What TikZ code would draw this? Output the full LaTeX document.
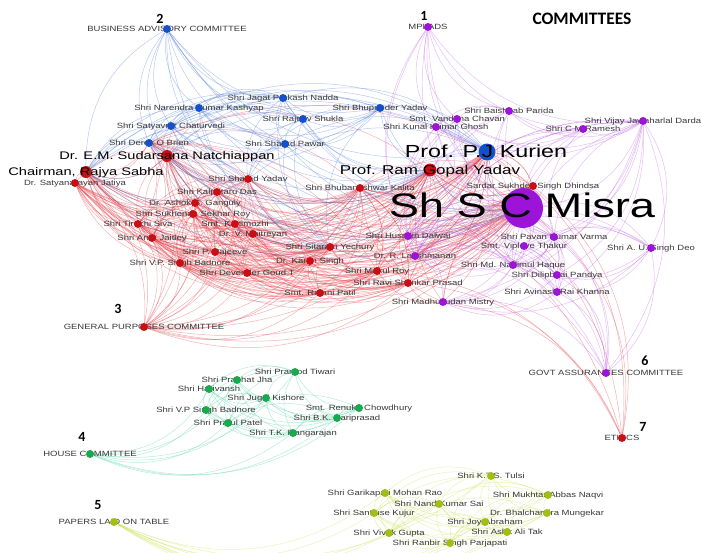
\documentclass[tikz,border=0pt]{standalone}
\usepackage{fontspec}
\setmainfont{Liberation Sans}[FakeStretch=1.25]
\newfontfamily\namefont{Liberation Sans}[FakeStretch=1.33]
\newfontfamily\headfont{Carlito}
\usetikzlibrary{backgrounds}
\definecolor{rnode}{RGB}{200,16,20}
\definecolor{bnode}{RGB}{20,80,200}
\definecolor{pnode}{RGB}{155,20,215}
\definecolor{gnode}{RGB}{25,170,80}
\definecolor{ynode}{RGB}{160,190,20}
\definecolor{rline}{RGB}{228,50,60}
\definecolor{bline}{RGB}{70,115,215}
\definecolor{pline}{RGB}{185,85,225}
\definecolor{gline}{RGB}{60,205,150}
\definecolor{yline}{RGB}{195,222,70}
\definecolor{lgray}{RGB}{55,55,55}
\pgfdeclarelayer{edges}
\pgfdeclarelayer{labels}
\pgfdeclarelayer{front}
\pgfsetlayers{edges,labels,main,front}
\tikzset{
	every node/.style = { inner sep=0pt },
	dot/.style  = { circle, minimum size=8pt },
	rm/.style   = { dot, fill=rnode },
	bm/.style   = { dot, fill=bnode },
	pm/.style   = { dot, fill=pnode },
	gm/.style   = { dot, fill=gnode },
	ym/.style   = { dot, fill=ynode },
	lbl/.style  = { font=\fontsize{7.6}{8}\selectfont, text=lgray, text height=5.4pt, text depth=0pt },
	big/.style  = { font=\namefont\fontsize{#1}{#1}\selectfont, text=black, text height=0.72*#1pt, text depth=0pt },
	num/.style  = { font=\headfont\bfseries\fontsize{14}{14}\selectfont },
	edge/.style = { line width=.5pt, opacity=.38, bend right=30 },
	re/.style   = { edge, draw=rline },
	be/.style   = { edge, draw=bline },
	pe/.style   = { edge, draw=pline },
	ge/.style   = { edge, draw=gline },
	ye/.style   = { edge, draw=yline },
}
% a member: style, name, position, text
\newcommand{\member}[4]{\node[#1] (#2) at (#3) {};
	\begin{pgfonlayer}{labels}\node[lbl] at (#2) {#4};\end{pgfonlayer}}
% committee to its members
\newcommand{\seats}[3]{\foreach \who in #3 {\draw[#1] (#2) to (\who);}}
% members of one committee with each other
\newcommand{\clique}[2]{\foreach \a [count=\i] in #2 {
	\foreach \b [count=\j] in #2 {\ifnum\j>\i \draw[#1] (\a) to (\b);\fi}}}

\begin{document}
\begin{tikzpicture}[x=1pt,y=-1pt]
\useasboundingbox (0,0) rectangle (702,552);

% committees
\member{pm}{mplads}{428,27}{MPLADS}
\member{bm}{bac}{167,29}{BUSINESS ADVISORY COMMITTEE}
\member{rm}{gpc}{144,327}{GENERAL PURPOSES COMMITTEE}
\member{gm}{house}{90,454}{HOUSE COMMITTEE}
\member{ym}{plot}{114,522}{PAPERS LAID ON TABLE}
\member{pm}{gac}{606,373}{GOVT ASSURANCES COMMITTEE}
\member{rm}{ethics}{622,438}{ETHICS}
\node (n1) [num] at (424,16) {1};
\node (n2) [num] at (160,19) {2};
\node (n3) [num] at (118,309) {3};
\node (n4) [num] at (82,437) {4};
\node (n5) [num] at (98,505) {5};
\node (n6) [num] at (645,361) {6};
\node (n7) [num] at (643,427) {7};
\node (title) [font=\headfont\bfseries\fontsize{17.5}{17.5}\selectfont] at (582,19) {COMMITTEES};

% red
\node (chair) [rm,minimum size=12pt] at (86,172) {};
\node (natch) [rm,minimum size=12pt] at (167,156) {};
\node (rgyadav) [rm,minimum size=13pt] at (430,170) {};
\member{rm}{jatiya}{75,183}{Dr. Satyanarayan Jatiya}
\member{rm}{syadav}{248,179}{Shri Sharad Yadav}
\member{rm}{kdas}{217,192}{Shri Kalpataru Das}
\member{rm}{ganguly}{195,203}{Dr. Ashok S. Ganguly}
\member{rm}{sroy}{193,214}{Shri Sukhendu Sekhar Roy}
\member{rm}{siva}{138,224}{Shri Tiruchi Siva}
\member{rm}{kani}{235,224}{Smt. Kanimozhi}
\member{rm}{jaitley}{152,238}{Shri Arun Jaitley}
\member{rm}{maitreyan}{253,234}{Dr. V. Maitreyan}
\member{rm}{rajeeve}{215,252}{Shri P. Rajeeve}
\member{rm}{badnore}{180,263}{Shri V.P. Singh Badnore}
\member{rm}{goud}{247,273}{Shri Devender Goud T}
\member{rm}{karan}{310,261}{Dr. Karan Singh}
\member{rm}{yechury}{330,247}{Shri Sitaram Yechury}
\member{rm}{patil}{320,293}{Smt. Rajani Patil}
\member{rm}{mroy}{377,271}{Shri Mukul Roy}
\member{rm}{prasad}{408,283}{Shri Ravi Shankar Prasad}
\member{rm}{kalita}{360,188}{Shri Bhubaneshwar Kalita}
\member{rm}{dhindsa}{533,186}{Sardar Sukhdev Singh Dhindsa}

% blue
\node (kurien) [bm,minimum size=17pt] at (487,152) {};
\member{bm}{nadda}{283,98}{Shri Jagat Prakash Nadda}
\member{bm}{kashyap}{199,108}{Shri Narendra Kumar Kashyap}
\member{bm}{shukla}{303,119}{Shri Rajeev Shukla}
\member{bm}{chaturvedi}{171,126}{Shri Satyavrat Chaturvedi}
\member{bm}{obrien}{149,143}{Shri Derek O Brien}
\member{bm}{pawar}{285,144}{Shri Sharad Pawar}
\member{bm}{byadav}{380,108}{Shri Bhupender Yadav}

% purple
\node (misra) [pm,minimum size=40pt] at (523,208) {};
\member{pm}{parida}{509,111}{Shri Baishnab Parida}
\member{pm}{chavan}{457,119}{Smt. Vandana Chavan}
\member{pm}{ghosh}{436,127}{Shri Kunal Kumar Ghosh}
\member{pm}{ramesh}{583,129}{Shri C M Ramesh}
\member{pm}{darda}{643,121}{Shri Vijay Jawaharlal Darda}
\member{pm}{dalwai}{408,236}{Shri Hussain Dalwai}
\member{pm}{varma}{554,237}{Shri Pavan Kumar Varma}
\member{pm}{thakur}{524,246}{Smt. Viplove Thakur}
\member{pm}{deo}{651,248}{Shri A. U. Singh Deo}
\member{pm}{lakshmanan}{415,256}{Dr. R. Lakshmanan}
\member{pm}{haque}{513,265}{Shri Md. Nadimul Haque}
\member{pm}{pandya}{557,275}{Shri Dilipbhai Pandya}
\member{pm}{khanna}{557,292}{Shri Avinash Rai Khanna}
\member{pm}{mistry}{443,302}{Shri Madhusudan Mistry}

% green
\member{gm}{tiwari}{295,372}{Shri Pramod Tiwari}
\member{gm}{jha}{237,380}{Shri Prabhat Jha}
\member{gm}{harivansh}{209,389}{Shri Harivansh}
\member{gm}{kishore}{266,398}{Shri Jugal Kishore}
\member{gm}{vpbadnore}{206,410}{Shri V.P Singh Badnore}
\member{gm}{renuka}{359,408}{Smt. Renuka Chowdhury}
\member{gm}{hariprasad}{337,418}{Shri B.K. Hariprasad}
\member{gm}{patel}{228,423}{Shri Praful Patel}
\member{gm}{rangarajan}{293,433}{Shri T.K. Rangarajan}

% yellow
\member{ym}{tulsi}{491,476}{Shri K.T.S. Tulsi}
\member{ym}{garikapati}{385,493}{Shri Garikapati Mohan Rao}
\member{ym}{naqvi}{548,495}{Shri Mukhtar Abbas Naqvi}
\member{ym}{sai}{439,504}{Shri Nand Kumar Sai}
\member{ym}{kujur}{374,513}{Shri Santiuse Kujur}
\member{ym}{mungekar}{547,513}{Dr. Bhalchandra Mungekar}
\member{ym}{abraham}{485,522}{Shri Joy Abraham}
\member{ym}{tak}{507,532}{Shri Ashk Ali Tak}
\member{ym}{gupta}{389,533}{Shri Vivek Gupta}
\member{ym}{parjapati}{450,543}{Shri Ranbir Singh Parjapati}

% big names on top
\begin{pgfonlayer}{front}
\node (misra-l)   [big=34]   at (522,205) {Sh S C Misra};
\node (kurien-l)  [big=17.5] at (486,151) {Prof. P.J Kurien};
\node (rgyadav-l) [big=12.8] at (430,170) {Prof. Ram Gopal Yadav};
\node (natch-l)   [big=11]   at (167,156) {Dr. E.M. Sudarsana Natchiappan};
\node (chair-l)   [big=11]   at (86,172)  {Chairman, Rajya Sabha};
\end{pgfonlayer}

% connectors
\begin{pgfonlayer}{edges}
\def\gpclist{chair,natch,jatiya,syadav,kdas,ganguly,sroy,siva,kani,jaitley,maitreyan,rajeeve,badnore,goud,karan,yechury,patil,mroy,prasad,kalita,rgyadav,dhindsa,obrien,kurien,misra}
\def\baclist{kurien,nadda,kashyap,shukla,chaturvedi,obrien,pawar,byadav,chair,natch,syadav,yechury,rgyadav,misra}
\def\mpllist{parida,chavan,ghosh,ramesh,darda,misra,dalwai,lakshmanan,haque,varma}
\def\gaclist{mistry,khanna,pandya,haque,deo,varma,thakur,misra,darda,dalwai,lakshmanan}
\def\ethlist{misra,rgyadav,dhindsa,prasad,mroy,kalita,mistry,kurien}
\def\houlist{tiwari,jha,harivansh,kishore,vpbadnore,renuka,hariprasad,patel,rangarajan}
\def\plolist{tulsi,garikapati,naqvi,sai,kujur,mungekar,abraham,tak,gupta,parjapati}
\clique{re}{\gpclist}
\clique{be}{\baclist}
\clique{pe}{\mpllist}
\clique{pe}{\gaclist}
\clique{re}{\ethlist}
\clique{ge}{\houlist}
\clique{ye}{\plolist}
\seats{re}{gpc}{\gpclist}
\seats{be}{bac}{\baclist}
\seats{pe}{mplads}{\mpllist}
\seats{pe}{gac}{\gaclist}
\seats{re}{ethics}{\ethlist}
\seats{ge}{house}{\houlist}
\seats{ye}{plot}{\plolist}
\end{pgfonlayer}
\end{tikzpicture}
\end{document}
